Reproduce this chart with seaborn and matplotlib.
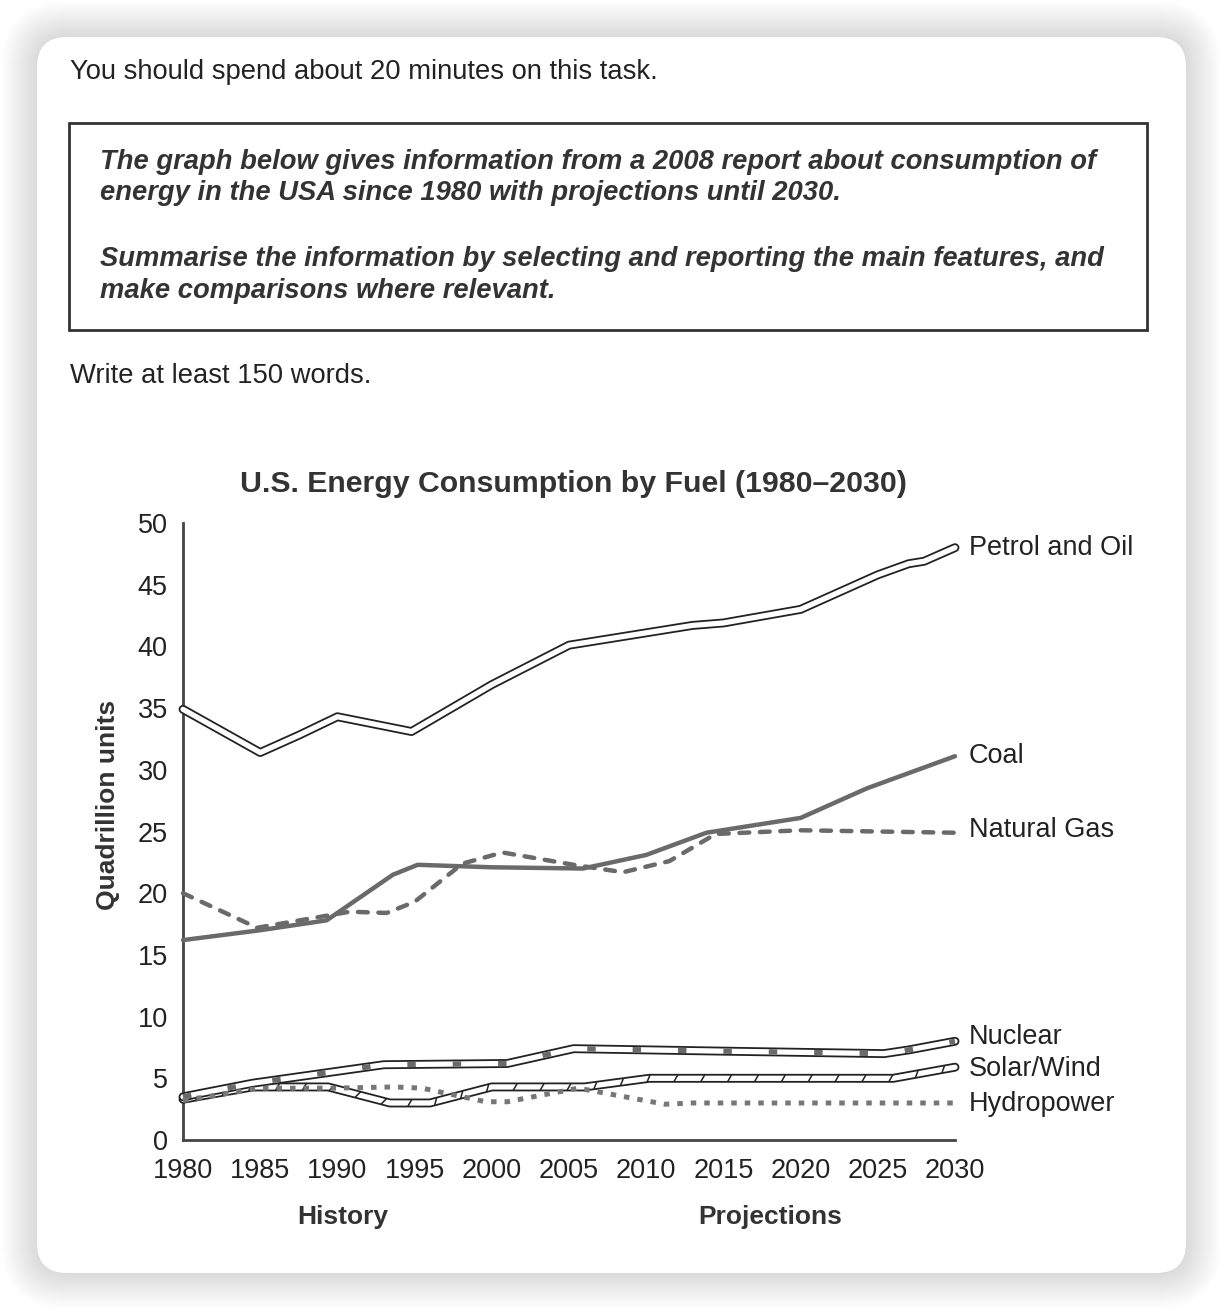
import matplotlib
matplotlib.use("Agg")
import matplotlib.pyplot as plt
import matplotlib.patheffects as pe
from matplotlib.patches import FancyBboxPatch, Rectangle
import seaborn as sns

# values (quadrillion units)
petrol_years = [1980, 1985, 1987.5, 1990, 1994.8, 2000, 2005, 2010, 2013, 2015, 2020, 2025, 2027, 2028, 2030]
petrol = [34.9, 31.4, 32.8, 34.3, 33.1, 36.9, 40.1, 41.1, 41.7, 41.9, 43.0, 45.8, 46.7, 46.9, 48.0]

coal_years = [1980, 1985, 1989.3, 1993.6, 1995.2, 2000, 2005.9, 2010, 2013.9, 2020, 2024.3, 2030]
coal = [16.2, 17.0, 17.8, 21.5, 22.3, 22.1, 22.0, 23.1, 24.9, 26.1, 28.5, 31.1]

gas_years = [1980, 1984.8, 1990.8, 1993.2, 1995, 1998.1, 2000.7, 2005.3, 2008.5, 2011.5, 2014.5, 2020, 2030]
gas = [20.0, 17.2, 18.5, 18.4, 19.3, 22.4, 23.3, 22.3, 21.7, 22.6, 24.8, 25.1, 24.9]

nuclear_years = [1980, 1984.5, 1993, 2001, 2005.3, 2015, 2025.4, 2027, 2030]
nuclear = [3.5, 4.6, 6.1, 6.2, 7.4, 7.2, 7.0, 7.3, 8.0]

solar_years = [1980, 1984.5, 1989.4, 1993.4, 1996, 2000, 2006, 2010.2, 2026, 2030]
solar = [3.3, 4.3, 4.3, 3.0, 3.0, 4.3, 4.3, 5.0, 5.0, 5.9]

hydro_years = [1980, 1985, 1989.7, 1993.7, 1995.5, 1999.6, 2001, 2005.6, 2011.2, 2013, 2030]
hydro = [3.2, 4.2, 4.2, 4.3, 4.2, 3.1, 3.1, 4.2, 2.9, 3.0, 3.0]

series_names = ['Petrol and Oil', 'Coal', 'Natural Gas', 'Nuclear', 'Solar/Wind', 'Hydropower']
year_ticks = list(range(1980, 2031, 5))
value_ticks = list(range(0, 51, 5))

sns.set_style("white")
plt.rcParams['font.family'] = ['Liberation Sans', 'DejaVu Sans']

W, H = 1222, 1310
fig = plt.figure(figsize=(W / 100, H / 100), dpi=100)
fig.patch.set_facecolor('white')

# background layer in pixel units
bg = fig.add_axes([0, 0, 1, 1])
bg.set_xlim(0, W)
bg.set_ylim(H, 0)
bg.axis('off')

for i in range(36, 0, -1):
    bg.add_patch(FancyBboxPatch((37 - i, 37 - i), 1149 + 2 * i, 1236 + 2 * i,
                                boxstyle="round,pad=0,rounding_size=%d" % (30 + i),
                                fc='black', ec='none', alpha=0.0032))
bg.add_patch(FancyBboxPatch((37, 37), 1149, 1236, boxstyle="round,pad=0,rounding_size=30",
                            fc='white', ec='none'))

bg.text(70, 72, "You should spend about 20 minutes on this task.", fontsize=19.7,
        va='center', color='#222222')
bg.add_patch(Rectangle((69, 123), 1078, 207, fill=False, ec='#333333', lw=2))
box_lines = [(162, "The graph below gives information from a 2008 report about consumption of"),
             (193, "energy in the USA since 1980 with projections until 2030."),
             (259, "Summarise the information by selecting and reporting the main features, and"),
             (291, "make comparisons where relevant.")]
for y, s in box_lines:
    bg.text(100, y, s, fontsize=19.7, fontweight='bold', fontstyle='italic',
            va='center', color='#333333')
bg.text(70, 376, "Write at least 150 words.", fontsize=19.7, va='center', color='#222222')

bg.text(573, 484, "U.S. Energy Consumption by Fuel (1980\u20132030)", fontsize=21.8,
        fontweight='bold', ha='center', va='center', color='#333333')
bg.text(108, 805, "Quadrillion units", fontsize=19, fontweight='bold', rotation=90,
        ha='center', va='center', color='#333333')
bg.text(343, 1217, "History", fontsize=19, fontweight='bold', ha='center', va='center', color='#333333')
bg.text(770, 1217, "Projections", fontsize=19, fontweight='bold', ha='center', va='center', color='#333333')

# chart
ax = fig.add_axes([183 / W, 1 - 1140 / H, (955 - 183) / W, (1140 - 523) / H])
ax.patch.set_alpha(0)

gray = '#6a6a6a'
hollow_fx = [pe.Stroke(linewidth=6.4, foreground='#222222', capstyle='round'), pe.Normal()]

def hollow(x, y, z):
    sns.lineplot(x=x, y=y, ax=ax, color='white', lw=3.8, solid_capstyle='round',
                 path_effects=hollow_fx, clip_on=False, zorder=z)

hollow(petrol_years, petrol, 3)

sns.lineplot(x=gas_years, y=gas, ax=ax, color=gray, lw=3.2, linestyle=(0, (2.2, 2.4)),
             dash_capstyle='round', clip_on=False, zorder=3)
sns.lineplot(x=coal_years, y=coal, ax=ax, color=gray, lw=3.2, clip_on=False, zorder=4)

hollow(solar_years, solar, 3)
sns.lineplot(x=solar_years, y=solar, ax=ax, color='#222222', lw=1.1, clip_on=False, zorder=3.1,
             path_effects=[pe.TickedStroke(offset=(0, -2.2), spacing=19, angle=60, length=0.27,
                                           linewidth=1.1, foreground='#222222')])

hollow(nuclear_years, nuclear, 4)
sns.lineplot(x=nuclear_years, y=nuclear, ax=ax, color=gray, lw=3.8, linestyle=(0, (1.6, 7)),
             dash_capstyle='butt', clip_on=False, zorder=4.1)

sns.lineplot(x=hydro_years, y=hydro, ax=ax, color='#777777', lw=3.6, linestyle=(0, (1.1, 1.6)),
             dash_capstyle='butt', clip_on=False, zorder=5)

ends = [(petrol_years, petrol, 0), (coal_years, coal, 0), (gas_years, gas, 2),
        (nuclear_years, nuclear, 3), (solar_years, solar, -1), (hydro_years, hydro, -1)]
for name, (xs, ys, dy) in zip(series_names, ends):
    ax.annotate(name, xy=(xs[-1], ys[-1]), xytext=(10, dy), textcoords='offset points',
                fontsize=19.5, va='center', ha='left', color='#222222', annotation_clip=False)

ax.set_xlim(1980, 2030)
ax.set_ylim(0, 50)
ax.set_xticks(year_ticks)
ax.set_yticks(value_ticks)
ax.set_xlabel('')
ax.set_ylabel('')
for side in ['top', 'right']:
    ax.spines[side].set_visible(False)
for side in ['left', 'bottom']:
    ax.spines[side].set_color('#444444')
    ax.spines[side].set_linewidth(2)
ax.tick_params(direction='out', length=7, width=1.6, color='#444444', labelsize=19.5,
               labelcolor='#222222', pad=6)
ax.tick_params(axis='y', pad=4)

fig.savefig('out.png', dpi=100)
